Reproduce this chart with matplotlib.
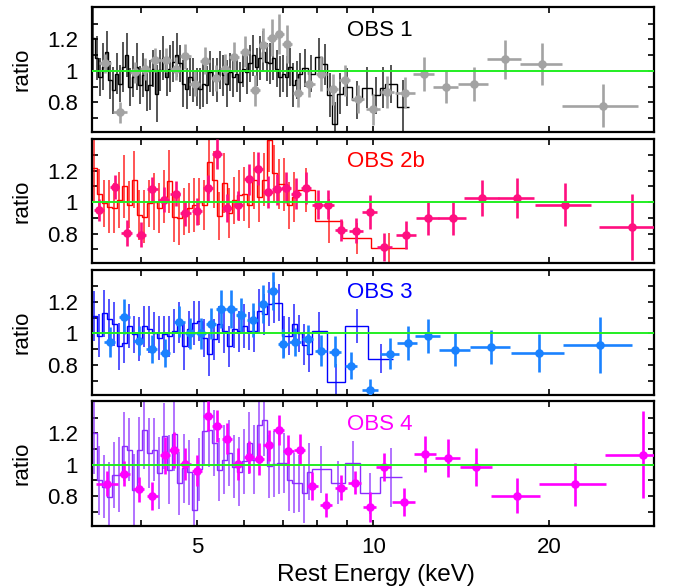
import matplotlib
matplotlib.use("Agg")
import matplotlib.pyplot as plt
import numpy as np
from matplotlib.ticker import FixedLocator, FixedFormatter, NullFormatter

plt.rcParams['font.family'] = ['Liberation Sans', 'DejaVu Sans']

# ---------------- data ----------------
panel_labels = ["OBS 1", "OBS 2b", "OBS 3", "OBS 4"]
x_ticks = [5, 10, 20]
x_tick_labels = ["5", "10", "20"]
x_minor = [4, 6, 7, 8, 9]
y_ticks = [0.8, 1.0, 1.2]
y_tick_labels = ["0.8", "1", "1.2"]
y_minor = [0.7, 0.9, 1.1, 1.3]

# --- OBS 1 binned ratio (step) ---
edges1 = [3.298, 3.341, 3.386, 3.430, 3.476, 3.522, 3.568, 3.615, 3.663, 3.712,
          3.761, 3.810, 3.861, 3.912, 3.963, 4.016, 4.069, 4.123, 4.177, 4.233,
          4.289, 4.345, 4.403, 4.461, 4.520, 4.580, 4.640, 4.702, 4.764, 4.827,
          4.891, 4.955, 5.021, 5.087, 5.155, 5.223, 5.292, 5.362, 5.433, 5.505,
          5.577, 5.651, 5.726, 5.802, 5.878, 5.956, 6.034, 6.114, 6.195, 6.276,
          6.359, 6.443, 6.528, 6.614, 6.702, 6.790, 6.880, 6.971, 7.063, 7.156,
          7.250, 7.346, 7.443, 7.541,
          7.72, 7.96, 8.18, 8.35, 8.50, 8.67, 8.88, 9.18, 9.58, 9.96, 10.28, 10.49, 11.0, 11.5]
ratio1 = [1.207, 1.079, 0.962, 1.026, 1.122, 0.940, 0.876, 0.983, 0.919, 1.026,
          1.100, 0.897, 0.962, 1.026, 0.908, 0.972, 0.876, 0.908, 1.015, 0.855,
          1.004, 1.079, 0.962, 1.015, 1.058, 1.100, 1.047, 0.919, 0.887, 0.962,
          0.940, 0.897, 0.887, 0.919, 0.908, 0.994, 0.962, 0.940, 1.004, 0.972,
          0.919, 0.994, 0.962, 0.983, 0.929, 1.015, 0.994, 1.047, 1.100, 1.026,
          1.079, 1.122, 1.058, 1.047, 1.079, 1.015, 0.962, 0.983, 0.962, 1.026,
          0.908, 0.940, 0.983,
          1.019, 0.983, 1.090, 1.041, 0.848, 0.662, 0.855, 0.897, 0.815, 0.893, 0.844, 0.893, 0.915, 0.773]
err1 = [0.20, 0.14, 0.12, 0.15, 0.13, 0.12, 0.15, 0.13, 0.12, 0.16,
        0.14, 0.12, 0.13, 0.15, 0.12, 0.14, 0.13, 0.16, 0.12, 0.18,
        0.13, 0.14, 0.12, 0.15, 0.13, 0.14, 0.12, 0.15, 0.13, 0.12,
        0.14, 0.12, 0.13, 0.15, 0.12, 0.13, 0.12, 0.14, 0.12, 0.13,
        0.15, 0.12, 0.13, 0.12, 0.13, 0.12, 0.14, 0.12, 0.13, 0.12,
        0.14, 0.13, 0.12, 0.13, 0.14, 0.12, 0.13, 0.12, 0.13, 0.12,
        0.14, 0.12, 0.13,
        0.12, 0.12, 0.12, 0.13, 0.14, 0.14, 0.13, 0.12, 0.12, 0.13, 0.12, 0.13, 0.12, 0.17]

# common fine binning for OBS 2b / 3 / 4
edges_fine = [3.298, 3.364, 3.431, 3.499, 3.568, 3.639, 3.712, 3.785, 3.861, 3.938,
              4.016, 4.096, 4.177, 4.260, 4.345, 4.432, 4.520, 4.610, 4.702, 4.795,
              4.891, 4.988, 5.087, 5.189, 5.292, 5.397, 5.505, 5.614, 5.726, 5.840,
              5.956, 6.074, 6.195, 6.318, 6.443, 6.572, 6.702, 6.836, 6.971, 7.110,
              7.251, 7.395, 7.543, 7.693, 7.846]

# --- OBS 2b ---
edges2 = edges_fine[:42] + [7.96, 8.83, 9.93, 11.4]
ratio2 = [1.220, 1.050, 0.994, 0.972, 0.962, 1.015, 1.100, 0.983, 1.143, 0.919,
          0.908, 0.994, 1.004, 0.962, 1.036, 1.132, 0.908, 0.897, 0.940, 0.962,
          0.983, 1.004, 0.983, 1.254, 1.143, 0.912, 1.122, 0.929, 1.011, 1.043,
          1.053, 0.985, 1.139, 1.032, 1.143, 1.395, 1.186, 1.118, 1.113, 0.979,
          1.032,
          1.079, 0.878, 0.770, 0.705]
err2 = [0.22, 0.16, 0.15, 0.17, 0.16, 0.18, 0.20, 0.15, 0.18, 0.16,
        0.17, 0.15, 0.18, 0.16, 0.17, 0.20, 0.16, 0.17, 0.15, 0.16,
        0.17, 0.15, 0.16, 0.20, 0.18, 0.15, 0.19, 0.16, 0.15, 0.16,
        0.17, 0.15, 0.18, 0.16, 0.17, 0.20, 0.18, 0.16, 0.17, 0.15,
        0.16,
        0.14, 0.14, 0.10, 0.10]

# --- OBS 3 ---
edges3 = edges_fine[:45] + [8.33, 8.96, 9.81, 10.8]
ratio3 = [1.111, 0.987, 1.128, 1.090, 1.062, 0.919, 0.940, 1.047, 0.994, 0.962,
          1.047, 1.026, 1.004, 0.972, 0.994, 0.983, 1.015, 1.068, 0.919, 1.026,
          1.068, 1.079, 0.972, 0.872, 0.962, 1.058, 1.015, 0.919, 1.026, 1.015,
          1.047, 1.015, 1.015, 1.143, 1.122, 1.186, 1.197, 1.197, 0.983, 0.983,
          1.058, 1.000, 0.929, 0.872,
          1.015, 0.694, 1.047, 0.840]
err3 = [0.16, 0.14, 0.15, 0.13, 0.14, 0.15, 0.13, 0.14, 0.12, 0.14,
        0.13, 0.15, 0.13, 0.14, 0.12, 0.13, 0.14, 0.13, 0.15, 0.12,
        0.14, 0.13, 0.12, 0.14, 0.13, 0.12, 0.14, 0.13, 0.12, 0.13,
        0.14, 0.12, 0.13, 0.14, 0.13, 0.14, 0.13, 0.12, 0.13, 0.12,
        0.13, 0.12, 0.13, 0.12,
        0.12, 0.11, 0.11, 0.09]

# --- OBS 4 ---
edges4 = edges_fine[:45] + [8.47, 8.96, 9.5, 10.28, 11.2]
ratio4 = [1.203, 0.900, 0.861, 0.797, 0.936, 0.936, 1.118, 1.096, 0.840, 1.096,
          1.224, 1.075, 1.096, 0.947, 1.182, 0.968, 1.199, 0.882, 0.979, 0.951,
          0.712, 0.972, 1.214, 1.224, 1.139, 0.968, 1.032, 1.075, 0.989, 0.957,
          1.021, 1.139, 1.032, 1.256, 1.288, 0.990, 1.006, 1.011, 1.011, 0.904,
          0.882, 0.882, 0.818, 0.957,
          0.972, 0.887, 1.011, 0.818, 0.919]
err4 = [0.26, 0.22, 0.20, 0.22, 0.21, 0.24, 0.22, 0.20, 0.23, 0.21,
        0.25, 0.22, 0.20, 0.23, 0.21, 0.22, 0.24, 0.20, 0.22, 0.21,
        0.23, 0.20, 0.22, 0.24, 0.21, 0.20, 0.22, 0.21, 0.20, 0.22,
        0.21, 0.20, 0.22, 0.21, 0.23, 0.20, 0.21, 0.20, 0.19, 0.20,
        0.19, 0.18, 0.19, 0.18,
        0.15, 0.14, 0.14, 0.13, 0.19]

# --- point data (filled circles) ---
e1 = [3.48, 3.69, 3.91, 4.07, 4.24, 4.42, 4.59, 4.77, 4.95, 5.16,
      5.38, 5.58, 5.78, 6.03, 6.27, 6.49, 6.71, 6.91, 7.13, 7.43,
      7.77, 8.15, 8.52, 8.93, 9.41, 9.99, 10.55, 11.35, 12.2, 13.3,
      14.85, 16.77, 19.4, 24.7]
r1 = [1.047, 0.735, 0.990, 1.010, 1.069, 1.069, 1.015, 1.094, 0.919, 1.064,
      0.955, 1.015, 1.090, 1.122, 0.876, 1.165, 1.212, 1.235, 1.171, 0.862,
      0.919, 0.983, 0.883, 0.940, 0.819, 0.754, 0.865, 0.862, 0.979, 0.897,
      0.915, 1.073, 1.045, 0.778]
xe1 = [0.08, 0.10, 0.08, 0.08, 0.09, 0.09, 0.09, 0.10, 0.10, 0.10,
       0.10, 0.11, 0.11, 0.12, 0.12, 0.12, 0.13, 0.13, 0.14, 0.15,
       0.17, 0.18, 0.19, 0.20, 0.24, 0.29, 0.28, 0.45, 0.50, 0.65,
       0.87, 1.10, 1.60, 3.65]
ye1 = [0.060, 0.065, 0.065, 0.070, 0.075, 0.075, 0.075, 0.080, 0.080, 0.085,
       0.085, 0.090, 0.095, 0.100, 0.100, 0.110, 0.120, 0.130, 0.120, 0.090,
       0.085, 0.110, 0.100, 0.100, 0.090, 0.096, 0.100, 0.100, 0.110, 0.100,
       0.107, 0.126, 0.135, 0.137]

e2 = [3.40, 3.61, 3.79, 4.01, 4.19, 4.38, 4.59, 4.77, 4.99, 5.21,
      5.40, 5.62, 5.87, 6.12, 6.35, 6.61, 6.84, 7.10, 7.38, 7.68,
      8.03, 8.38, 8.81, 9.34, 9.86, 10.45, 11.39, 12.40, 13.67, 15.35,
      17.61, 21.24, 27.7]
r2 = [0.953, 1.096, 0.804, 0.793, 1.081, 1.017, 1.054, 0.930, 0.942, 1.090,
      1.306, 0.962, 0.979, 1.146, 1.214, 1.064, 1.081, 1.092, 1.054, 1.090,
      0.985, 0.985, 0.823, 0.819, 0.936, 0.716, 0.793, 0.897, 0.900, 1.026,
      1.026, 0.985, 0.844]
xe2 = [0.07, 0.07, 0.08, 0.08, 0.09, 0.09, 0.09, 0.10, 0.10, 0.10,
       0.11, 0.11, 0.12, 0.12, 0.13, 0.13, 0.14, 0.14, 0.15, 0.16,
       0.17, 0.18, 0.20, 0.25, 0.28, 0.30, 0.45, 0.55, 0.75, 1.05,
       1.25, 2.35, 3.40]
ye2 = [0.070, 0.075, 0.080, 0.080, 0.080, 0.080, 0.080, 0.080, 0.085, 0.085,
       0.096, 0.090, 0.090, 0.100, 0.107, 0.100, 0.100, 0.100, 0.100, 0.100,
       0.090, 0.090, 0.070, 0.080, 0.107, 0.090, 0.090, 0.107, 0.107, 0.117,
       0.128, 0.137, 0.210]

e3 = [3.54, 3.75, 3.97, 4.18, 4.40, 4.66, 4.86, 5.08, 5.28, 5.50,
      5.72, 5.95, 6.22, 6.48, 6.73, 7.02, 7.35, 7.73, 8.14, 8.61,
      9.17, 9.88, 10.67, 11.45, 12.40, 13.81, 15.9, 19.18, 24.4]
r3 = [0.945, 1.107, 0.955, 0.902, 0.876, 1.075, 1.000, 1.000, 1.062, 1.154,
      1.154, 1.118, 1.086, 1.186, 1.272, 0.936, 0.947, 0.962, 0.891, 0.885,
      0.795, 0.637, 0.872, 0.940, 0.983, 0.897, 0.913, 0.876, 0.926]
xe3 = [0.08, 0.08, 0.08, 0.09, 0.09, 0.10, 0.10, 0.10, 0.11, 0.11,
       0.12, 0.12, 0.13, 0.13, 0.14, 0.15, 0.16, 0.17, 0.18, 0.20,
       0.22, 0.30, 0.40, 0.45, 0.60, 0.85, 1.25, 2.00, 3.30]
ye3 = [0.096, 0.110, 0.090, 0.090, 0.090, 0.100, 0.100, 0.100, 0.100, 0.120,
       0.120, 0.110, 0.110, 0.120, 0.120, 0.090, 0.090, 0.090, 0.100, 0.100,
       0.085, 0.070, 0.100, 0.107, 0.110, 0.107, 0.107, 0.120, 0.176]

e4 = [3.51, 3.75, 3.97, 4.19, 4.40, 4.57, 4.77, 5.00, 5.21, 5.41,
      5.63, 5.86, 6.12, 6.37, 6.62, 6.89, 7.16, 7.48, 7.86, 8.31,
      8.81, 9.29, 9.86, 10.42, 11.27, 12.27, 13.42, 15.0, 17.61, 22.1,
      28.9]
r4 = [0.878, 0.942, 0.844, 0.801, 1.060, 1.096, 1.006, 0.962, 1.310, 1.246,
      1.167, 1.006, 1.049, 1.038, 1.124, 1.221, 1.090, 1.096, 0.865, 0.744,
      0.855, 0.887, 0.733, 0.985, 0.765, 1.069, 1.043, 0.985, 0.804, 0.876,
      1.064]
xe4 = [0.15, 0.08, 0.08, 0.09, 0.09, 0.09, 0.10, 0.10, 0.10, 0.11,
       0.11, 0.12, 0.12, 0.13, 0.13, 0.14, 0.15, 0.16, 0.17, 0.19,
       0.20, 0.22, 0.25, 0.30, 0.50, 0.55, 0.65, 0.95, 1.70, 2.90,
       4.00]
ye4 = [0.080, 0.080, 0.080, 0.090, 0.120, 0.115, 0.100, 0.100, 0.096, 0.100,
       0.100, 0.100, 0.100, 0.100, 0.100, 0.096, 0.100, 0.100, 0.090, 0.075,
       0.080, 0.075, 0.096, 0.090, 0.090, 0.117, 0.120, 0.120, 0.112, 0.138,
       0.277]

step_sets = [(edges1, ratio1, err1), (edges2, ratio2, err2),
             (edges3, ratio3, err3), (edges4, ratio4, err4)]
point_sets = [(e1, r1, xe1, ye1), (e2, r2, xe2, ye2),
              (e3, r3, xe3, ye3), (e4, r4, xe4, ye4)]

# ---------------- style ----------------
step_colors = ['#000000', '#ff0000', '#0000ff', '#8c2cff']
point_colors = ['#a3a3a3', '#ff0f80', '#1a82ff', '#ff00ff']
label_colors = ['#000000', '#ff0000', '#0000ff', '#ff00ff']
green = '#22ee22'

W, H = 680.0, 588.0
fig = plt.figure(figsize=(6.8, 5.88), dpi=100)
ax_left = 91.7 / W
ax_w = (654.0 - 91.7) / W
ax_h_px = 124.8
FS = 16

axes = []
for i in range(4):
    top_px = 7.3 + 131.3 * i
    ax = fig.add_axes([ax_left, 1 - (top_px + ax_h_px) / H, ax_w, ax_h_px / H])
    axes.append(ax)
    ed, rv, er = step_sets[i]
    ed = np.asarray(ed); rv = np.asarray(rv); er = np.asarray(er)
    ax.stairs(rv, ed, baseline=None, color=step_colors[i], lw=1.0, zorder=2)
    cen = np.sqrt(ed[:-1] * ed[1:])
    ax.errorbar(cen, rv, yerr=er, fmt='none', ecolor=step_colors[i],
                elinewidth=1.1, alpha=0.85, zorder=2)
    pe, pr, pxe, pye = point_sets[i]
    ax.errorbar(pe, pr, xerr=pxe, yerr=pye, fmt='o', ms=5.2,
                color=point_colors[i], mec=point_colors[i], ecolor=point_colors[i],
                elinewidth=1.9, capsize=0, zorder=3)
    ax.axhline(1.0, color=green, lw=1.4, zorder=4)

    ax.set_xscale('log')
    ax.set_xlim(3.3, 30.2)
    ax.set_ylim(0.61, 1.405)
    ax.xaxis.set_major_locator(FixedLocator(x_ticks))
    ax.xaxis.set_minor_locator(FixedLocator(x_minor))
    ax.xaxis.set_minor_formatter(NullFormatter())
    if i == 3:
        ax.xaxis.set_major_formatter(FixedFormatter(x_tick_labels))
    else:
        ax.xaxis.set_major_formatter(NullFormatter())
    ax.yaxis.set_major_locator(FixedLocator(y_ticks))
    ax.yaxis.set_major_formatter(FixedFormatter(y_tick_labels))
    ax.yaxis.set_minor_locator(FixedLocator(y_minor))
    ax.yaxis.set_minor_formatter(NullFormatter())
    ax.tick_params(which='both', direction='in', top=True, right=True,
                   length=4.0, width=1.2, labelsize=FS)
    ax.tick_params(axis='y', which='major', pad=10)
    ax.tick_params(axis='x', which='major', pad=8)
    for s in ax.spines.values():
        s.set_linewidth(1.6)
    ax.text(0.454, 0.815, panel_labels[i], transform=ax.transAxes,
            ha='left', va='center', fontsize=FS, color=label_colors[i], zorder=5)
    ax.text(-0.124, 0.5, 'ratio', transform=ax.transAxes, rotation=90,
            ha='center', va='center', fontsize=FS)

fig.text(376 / W, 1 - 575 / H, 'Rest Energy (keV)', ha='center', va='center', fontsize=17.5)

fig.savefig('out.png', dpi=100)
